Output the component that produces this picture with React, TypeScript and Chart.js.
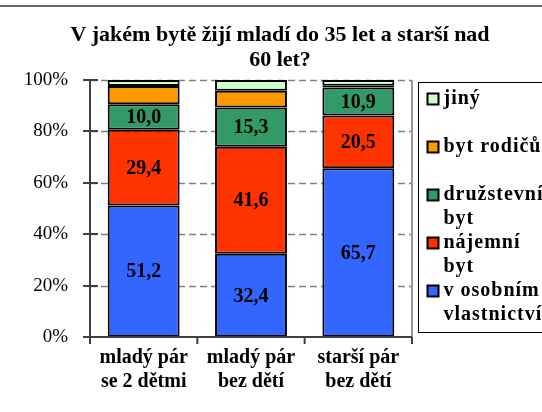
import React, { useEffect, useRef } from "react";
import { Chart, registerables } from "chart.js";

Chart.register(...registerables);

const TITLE_LINES = ["V jakém bytě žijí mladí do 35 let a starší nad", "60 let?"];
const CATEGORIES = [["mladý pár", "se 2 dětmi"], ["mladý pár", "bez dětí"], ["starší pár", "bez dětí"]];
const Y_TICKS = [0, 20, 40, 60, 80, 100];

const SERIES_NAMES = [
  ["v osobním", "vlastnictví"],
  ["nájemní", "byt"],
  ["družstevní", "byt"],
  ["byt rodičů"],
  ["jiný"],
];
const OWNED = [51.2, 32.4, 65.7];
const RENTED = [29.4, 41.6, 20.5];
const COOP = [10.0, 15.3, 10.9];
const PARENTS = [7.1, 6.5, 0.7];
const OTHER = [2.3, 4.2, 2.2];
const SERIES_VALUES = [OWNED, RENTED, COOP, PARENTS, OTHER];
const SERIES_COLORS = ["#3366FF", "#FF3300", "#339966", "#FF9900", "#CCFFCC"];
const LABELLED = [true, true, true, false, false];

const FONT = "'Liberation Serif', 'Times New Roman', serif";

const decorPlugin = {
  id: "decor",
  beforeDatasetsDraw(chart: any) {
    const { ctx, chartArea } = chart;
    const y = chart.scales.y;
    ctx.save();
    ctx.strokeStyle = "#808080";
    ctx.lineWidth = 1.5;
    ctx.setLineDash([7, 4]);
    Y_TICKS.forEach((v) => {
      if (v === 0) return;
      const py = Math.round(y.getPixelForValue(v)) + 0.5;
      ctx.beginPath();
      ctx.moveTo(chartArea.left, py);
      ctx.lineTo(chartArea.right, py);
      ctx.stroke();
    });
    ctx.setLineDash([]);
    ctx.strokeStyle = "#999999";
    ctx.lineWidth = 2;
    ctx.beginPath();
    ctx.moveTo(chartArea.right, chartArea.top);
    ctx.lineTo(chartArea.right, chartArea.bottom + 6);
    ctx.stroke();
    ctx.restore();
  },
  afterDatasetsDraw(chart: any) {
    const { ctx, chartArea } = chart;
    const y = chart.scales.y;
    const x = chart.scales.x;
    ctx.save();
    ctx.strokeStyle = "#404040";
    ctx.lineWidth = 2;
    ctx.beginPath();
    ctx.moveTo(chartArea.left, chartArea.top);
    ctx.lineTo(chartArea.left, chartArea.bottom + 6);
    ctx.stroke();
    ctx.beginPath();
    ctx.moveTo(chartArea.left - 7, chartArea.bottom);
    ctx.lineTo(chartArea.right, chartArea.bottom);
    ctx.stroke();
    Y_TICKS.forEach((v) => {
      const py = Math.round(y.getPixelForValue(v));
      ctx.beginPath();
      ctx.moveTo(chartArea.left - 7, py);
      ctx.lineTo(chartArea.left + 8, py);
      ctx.stroke();
    });
    const n = CATEGORIES.length;
    for (let i = 0; i <= n; i++) {
      const px = i < n ? x.getPixelForTick(i) - (x.width / n) / 2 : chartArea.right;
      ctx.beginPath();
      ctx.moveTo(px, chartArea.bottom);
      ctx.lineTo(px, chartArea.bottom + 7);
      ctx.stroke();
    }
    ctx.fillStyle = "#000";
    ctx.font = `bold 20px ${FONT}`;
    ctx.textAlign = "center";
    ctx.textBaseline = "middle";
    chart.data.datasets.forEach((ds: any, di: number) => {
      if (!LABELLED[di]) return;
      const meta = chart.getDatasetMeta(di);
      meta.data.forEach((el: any, i: number) => {
        const p = el.getProps(["x", "y", "base"], true);
        const v = ds.data[i] as number;
        ctx.fillText(v.toFixed(1).replace(".", ","), p.x, (p.y + p.base) / 2 + 1);
      });
    });
    ctx.restore();
  },
  afterDraw(chart: any) {
    const { ctx, width, chartArea } = chart;
    ctx.save();
    ctx.strokeStyle = "#333";
    ctx.lineWidth = 1.5;
    ctx.beginPath();
    ctx.moveTo(0, 6);
    ctx.lineTo(width, 6);
    ctx.stroke();
    ctx.fillStyle = "#000";
    ctx.font = `bold 22px ${FONT}`;
    ctx.textAlign = "center";
    ctx.textBaseline = "middle";
    const cx = width / 2 + 9;
    TITLE_LINES.forEach((t, i) => ctx.fillText(t, cx, 35 + i * 25));
    const lx = chartArea.right + 6.5;
    const ly = chartArea.top + 2.5;
    ctx.strokeStyle = "#000";
    ctx.lineWidth = 1;
    ctx.strokeRect(lx, ly, width - lx + 10, chartArea.bottom - chartArea.top - 7);
    ctx.font = `bold 20px ${FONT}`;
    ctx.textAlign = "left";
    (ctx as any).letterSpacing = "1px";
    const order = [4, 3, 2, 1, 0];
    order.forEach((di, k) => {
      const cy = ly + 16.5 + k * 48;
      ctx.fillStyle = SERIES_COLORS[di];
      ctx.fillRect(lx + 9, cy - 5.5, 11, 11);
      ctx.strokeStyle = "#000";
      ctx.lineWidth = 2;
      ctx.strokeRect(lx + 9, cy - 5.5, 11, 11);
      ctx.fillStyle = "#000";
      SERIES_NAMES[di].forEach((line, j) => {
        ctx.fillText(line, lx + 25, cy + j * 24);
      });
    });
    ctx.restore();
  },
};

export default function App() {
  const ref = useRef<HTMLCanvasElement | null>(null);
  useEffect(() => {
    if (!ref.current) return;
    const chart = new Chart(ref.current, {
      type: "bar",
      data: {
        labels: CATEGORIES as any,
        datasets: SERIES_VALUES.map((vals, i) => ({
          label: SERIES_NAMES[i].join(" "),
          data: vals,
          backgroundColor: SERIES_COLORS[i],
          borderColor: "#000",
          borderWidth: 2,
          borderSkipped: false,
          categoryPercentage: 1,
          barPercentage: 0.67,
        })),
      },
      options: {
        responsive: false,
        animation: false,
        devicePixelRatio: 1,
        layout: { padding: { left: 0, right: 130, top: 80, bottom: 0 } },
        plugins: { legend: { display: false }, title: { display: false }, tooltip: { enabled: false } },
        scales: {
          x: {
            stacked: true,
            grid: { display: false, drawTicks: false },
            border: { display: false },
            ticks: {
              color: "#000",
              font: { family: FONT, size: 20, weight: "bold", lineHeight: 1.2 },
              padding: 9,
              maxRotation: 0,
              autoSkip: false,
            },
            afterFit: (s: any) => { s.height = 75; },
          },
          y: {
            stacked: true,
            min: 0,
            max: 100,
            grid: { display: false, drawTicks: false },
            border: { display: false },
            ticks: {
              stepSize: 20,
              color: "#000",
              font: { family: FONT, size: 19 },
              padding: 22,
              callback: (v: any) => `${v}%`,
            },
            afterFit: (s: any) => { s.width = 90; },
          },
        },
      },
      plugins: [decorPlugin],
    });
    return () => chart.destroy();
  }, []);
  return (
    <div style={{ position: "fixed", left: 0, top: 0, width: 542, height: 412, background: "#fff" }}>
      <canvas ref={ref} width={542} height={412} />
    </div>
  );
}
